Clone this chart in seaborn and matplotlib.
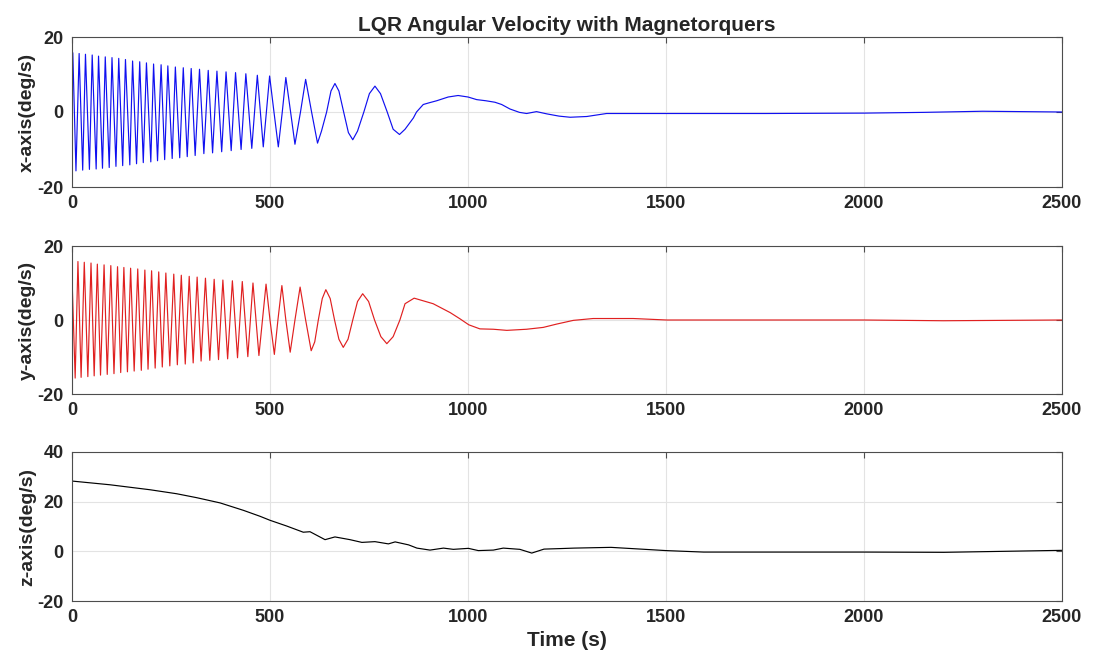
import numpy as np
import pandas as pd
import matplotlib
matplotlib.use("Agg")
import matplotlib.pyplot as plt
import seaborn as sns

# ---------------- data ----------------
# x-axis angular velocity (deg/s): fast section, extrema
x_peak_t = [2, 18, 34, 51, 67, 84, 101, 118, 135, 153, 171, 188, 206, 225, 242, 261,
            281, 301, 322, 344, 366, 389, 413, 439, 468, 499]
x_peak_v = [15.8, 15.6, 15.4, 15.2, 14.9, 14.7, 14.5, 14.3, 14.0, 13.6, 13.4, 13.1, 12.8,
            12.6, 12.3, 12.0, 11.8, 11.6, 11.4, 11.1, 10.9, 10.7, 10.5, 10.2, 9.8, 9.6]
x_trough_t = [10, 27, 44, 61, 77, 94, 111, 128, 146, 163, 180, 199, 216, 234, 253, 272,
              291, 311, 333, 355, 378, 402, 427, 454, 483]
x_trough_v = [-15.7, -15.5, -15.3, -15.2, -15.0, -14.8, -14.5, -14.3, -14.1, -13.8, -13.5,
              -13.3, -13.0, -12.7, -12.4, -12.2, -11.9, -11.6, -11.1, -10.9, -10.6, -10.3,
              -10.0, -9.7, -9.3]
# x-axis: start and slow section
x_tail_t = [0, 510, 521, 531, 540, 552, 563, 577, 590, 605, 620, 630, 643, 654, 664, 674,
            686, 698, 709, 721, 737, 751, 765, 779, 796, 811, 827, 841, 862, 870, 887,
            900, 921, 950, 975, 1000, 1022, 1045, 1068, 1085, 1106, 1130, 1148, 1173,
            1199, 1230, 1258, 1300, 1350, 1500, 1750, 2000, 2150, 2300, 2400, 2500]
x_tail_v = [8.0, 0, -9.3, 0, 9.2, 0, -8.6, 0, 8.7, 0, -8.3, -5.1, 0, 5.6, 7.6, 5.6,
            0, -5.5, -7.4, -5.1, 0, 4.9, 6.9, 4.9, 0, -4.6, -6.0, -4.6, -1.6, 0, 2.0,
            2.4, 3.0, 4.0, 4.4, 4.0, 3.3, 3.0, 2.6, 2.0, 0.8, -0.1, -0.4, 0.1,
            -0.5, -1.1, -1.4, -1.2, -0.4, -0.4, -0.4, -0.3, -0.1, 0.2, 0.1, 0.0]

# y-axis angular velocity (deg/s): fast section, extrema
y_peak_t = [15, 31, 48, 64, 81, 98, 115, 131, 148, 166, 184, 201, 219, 237, 257, 276,
            296, 316, 337, 359, 381, 405, 430, 457, 490]
y_peak_v = [15.8, 15.6, 15.4, 15.1, 14.9, 14.7, 14.4, 14.2, 14.0, 13.8, 13.5, 13.3, 13.0,
            12.7, 12.4, 12.1, 11.8, 11.6, 11.3, 11.0, 10.8, 10.6, 10.4, 10.0, 9.7]
y_trough_t = [8, 23, 40, 56, 72, 89, 106, 123, 140, 157, 175, 192, 210, 228, 247, 266,
              286, 306, 326, 348, 370, 393, 418, 444, 472]
y_trough_v = [-15.7, -15.5, -15.3, -15.1, -14.9, -14.7, -14.5, -14.2, -14.0, -13.8, -13.6,
              -13.3, -13.0, -12.7, -12.4, -12.1, -11.9, -11.6, -11.1, -10.9, -10.7, -10.5,
              -10.2, -9.9, -9.6]
y_tail_t = [0, 500, 511, 520, 530, 540, 551, 563, 576, 590, 604, 613, 622, 632, 641, 652,
            663, 674, 685, 697, 709, 721, 734, 749, 764, 780, 795, 811, 828, 841, 864,
            912, 955, 980, 1002, 1030, 1064, 1098, 1148, 1190, 1224, 1266, 1316, 1417,
            1502, 1800, 2000, 2200, 2350, 2500]
y_tail_v = [11.6, 0, -9.3, 0, 9.3, 0, -8.7, 0, 8.9, 0, -8.3, -5.9, 0, 5.8, 8.2, 5.8,
            0, -5.2, -7.4, -5.2, 0, 5.0, 7.1, 5.0, 0, -4.5, -6.4, -4.5, 0, 4.4, 5.9,
            4.4, 2.0, 0.3, -1.3, -2.4, -2.5, -2.8, -2.5, -2.0, -1.1, -0.1, 0.4, 0.4,
            0.0, 0.0, 0.0, -0.2, -0.1, 0.0]

# z-axis angular velocity (deg/s)
z_t = [0, 96, 197, 264, 315, 374, 433, 475, 500, 542, 584, 601, 639, 664, 702, 732, 765,
       799, 816, 850, 871, 904, 938, 963, 1001, 1026, 1064, 1089, 1131, 1161, 1192, 1232,
       1268, 1361, 1436, 1500, 1595, 1800, 2000, 2202, 2389, 2500]
z_v = [28.3, 26.8, 24.8, 23.2, 21.6, 19.5, 16.5, 14.1, 12.5, 10.2, 7.7, 7.9, 4.7, 5.8,
       4.7, 3.6, 3.9, 3.0, 3.8, 2.6, 1.3, 0.5, 1.3, 0.8, 1.2, 0.3, 0.5, 1.3, 0.8, -0.7,
       0.9, 1.1, 1.3, 1.6, 0.9, 0.3, -0.3, -0.3, -0.3, -0.4, 0.1, 0.4]

title = "LQR Angular Velocity with Magnetorquers"
ylabels = ["x-axis(deg/s)", "y-axis(deg/s)", "z-axis(deg/s)"]
xlabel = "Time (s)"
xticks = [0, 500, 1000, 1500, 2000, 2500]


def series(*pairs):
    frames = [pd.DataFrame({"t": t, "v": v}) for t, v in pairs]
    return pd.concat(frames).sort_values("t").reset_index(drop=True)


df_x = series((x_peak_t, x_peak_v), (x_trough_t, x_trough_v), (x_tail_t, x_tail_v))
df_y = series((y_peak_t, y_peak_v), (y_trough_t, y_trough_v), (y_tail_t, y_tail_v))
df_z = series((z_t, z_v))

# ---------------- style ----------------
sns.set_theme(style="white")
plt.rcParams["font.family"] = ["Liberation Sans", "DejaVu Sans"]
plt.rcParams["font.weight"] = "bold"
plt.rcParams["axes.unicode_minus"] = False

fig = plt.figure(figsize=(10.93, 6.64), dpi=100)
L, W = 72 / 1093, 990 / 1093
boxes = [(37, 187), (246, 394), (452, 601)]
axes = [fig.add_axes([L, 1 - b / 664, W, (b - t) / 664]) for t, b in boxes]

specs = [(df_x, "#1010f0", (-20, 20), [-20, 0, 20]),
         (df_y, "#e02020", (-20, 20), [-20, 0, 20]),
         (df_z, "#000000", (-20, 40), [-20, 0, 20, 40])]

for ax, (df, col, ylim, yt), yl in zip(axes, specs, ylabels):
    sns.lineplot(data=df, x="t", y="v", ax=ax, color=col, lw=0.85,
                 estimator=None, sort=False)
    ax.set_xlim(0, 2500)
    ax.set_ylim(*ylim)
    ax.set_xticks(xticks)
    ax.set_yticks(yt)
    ax.grid(True, color="#e3e3e3", lw=0.8)
    ax.set_axisbelow(True)
    for s in ax.spines.values():
        s.set_visible(True)
        s.set_color("#4d4d4d")
        s.set_linewidth(0.8)
    ax.tick_params(direction="in", length=4.5, width=0.8, color="#4d4d4d",
                   top=True, right=True, labelsize=13, pad=6)
    for lab in ax.get_xticklabels() + ax.get_yticklabels():
        lab.set_fontweight("bold")
    ax.set_ylabel(yl, fontsize=14, fontweight="bold", labelpad=1)
    ax.set_xlabel("")

axes[0].set_title(title, fontsize=15, fontweight="bold", pad=4)
axes[2].set_xlabel(xlabel, fontsize=15, fontweight="bold", labelpad=3)

fig.savefig("out.png", dpi=100, facecolor="white")
